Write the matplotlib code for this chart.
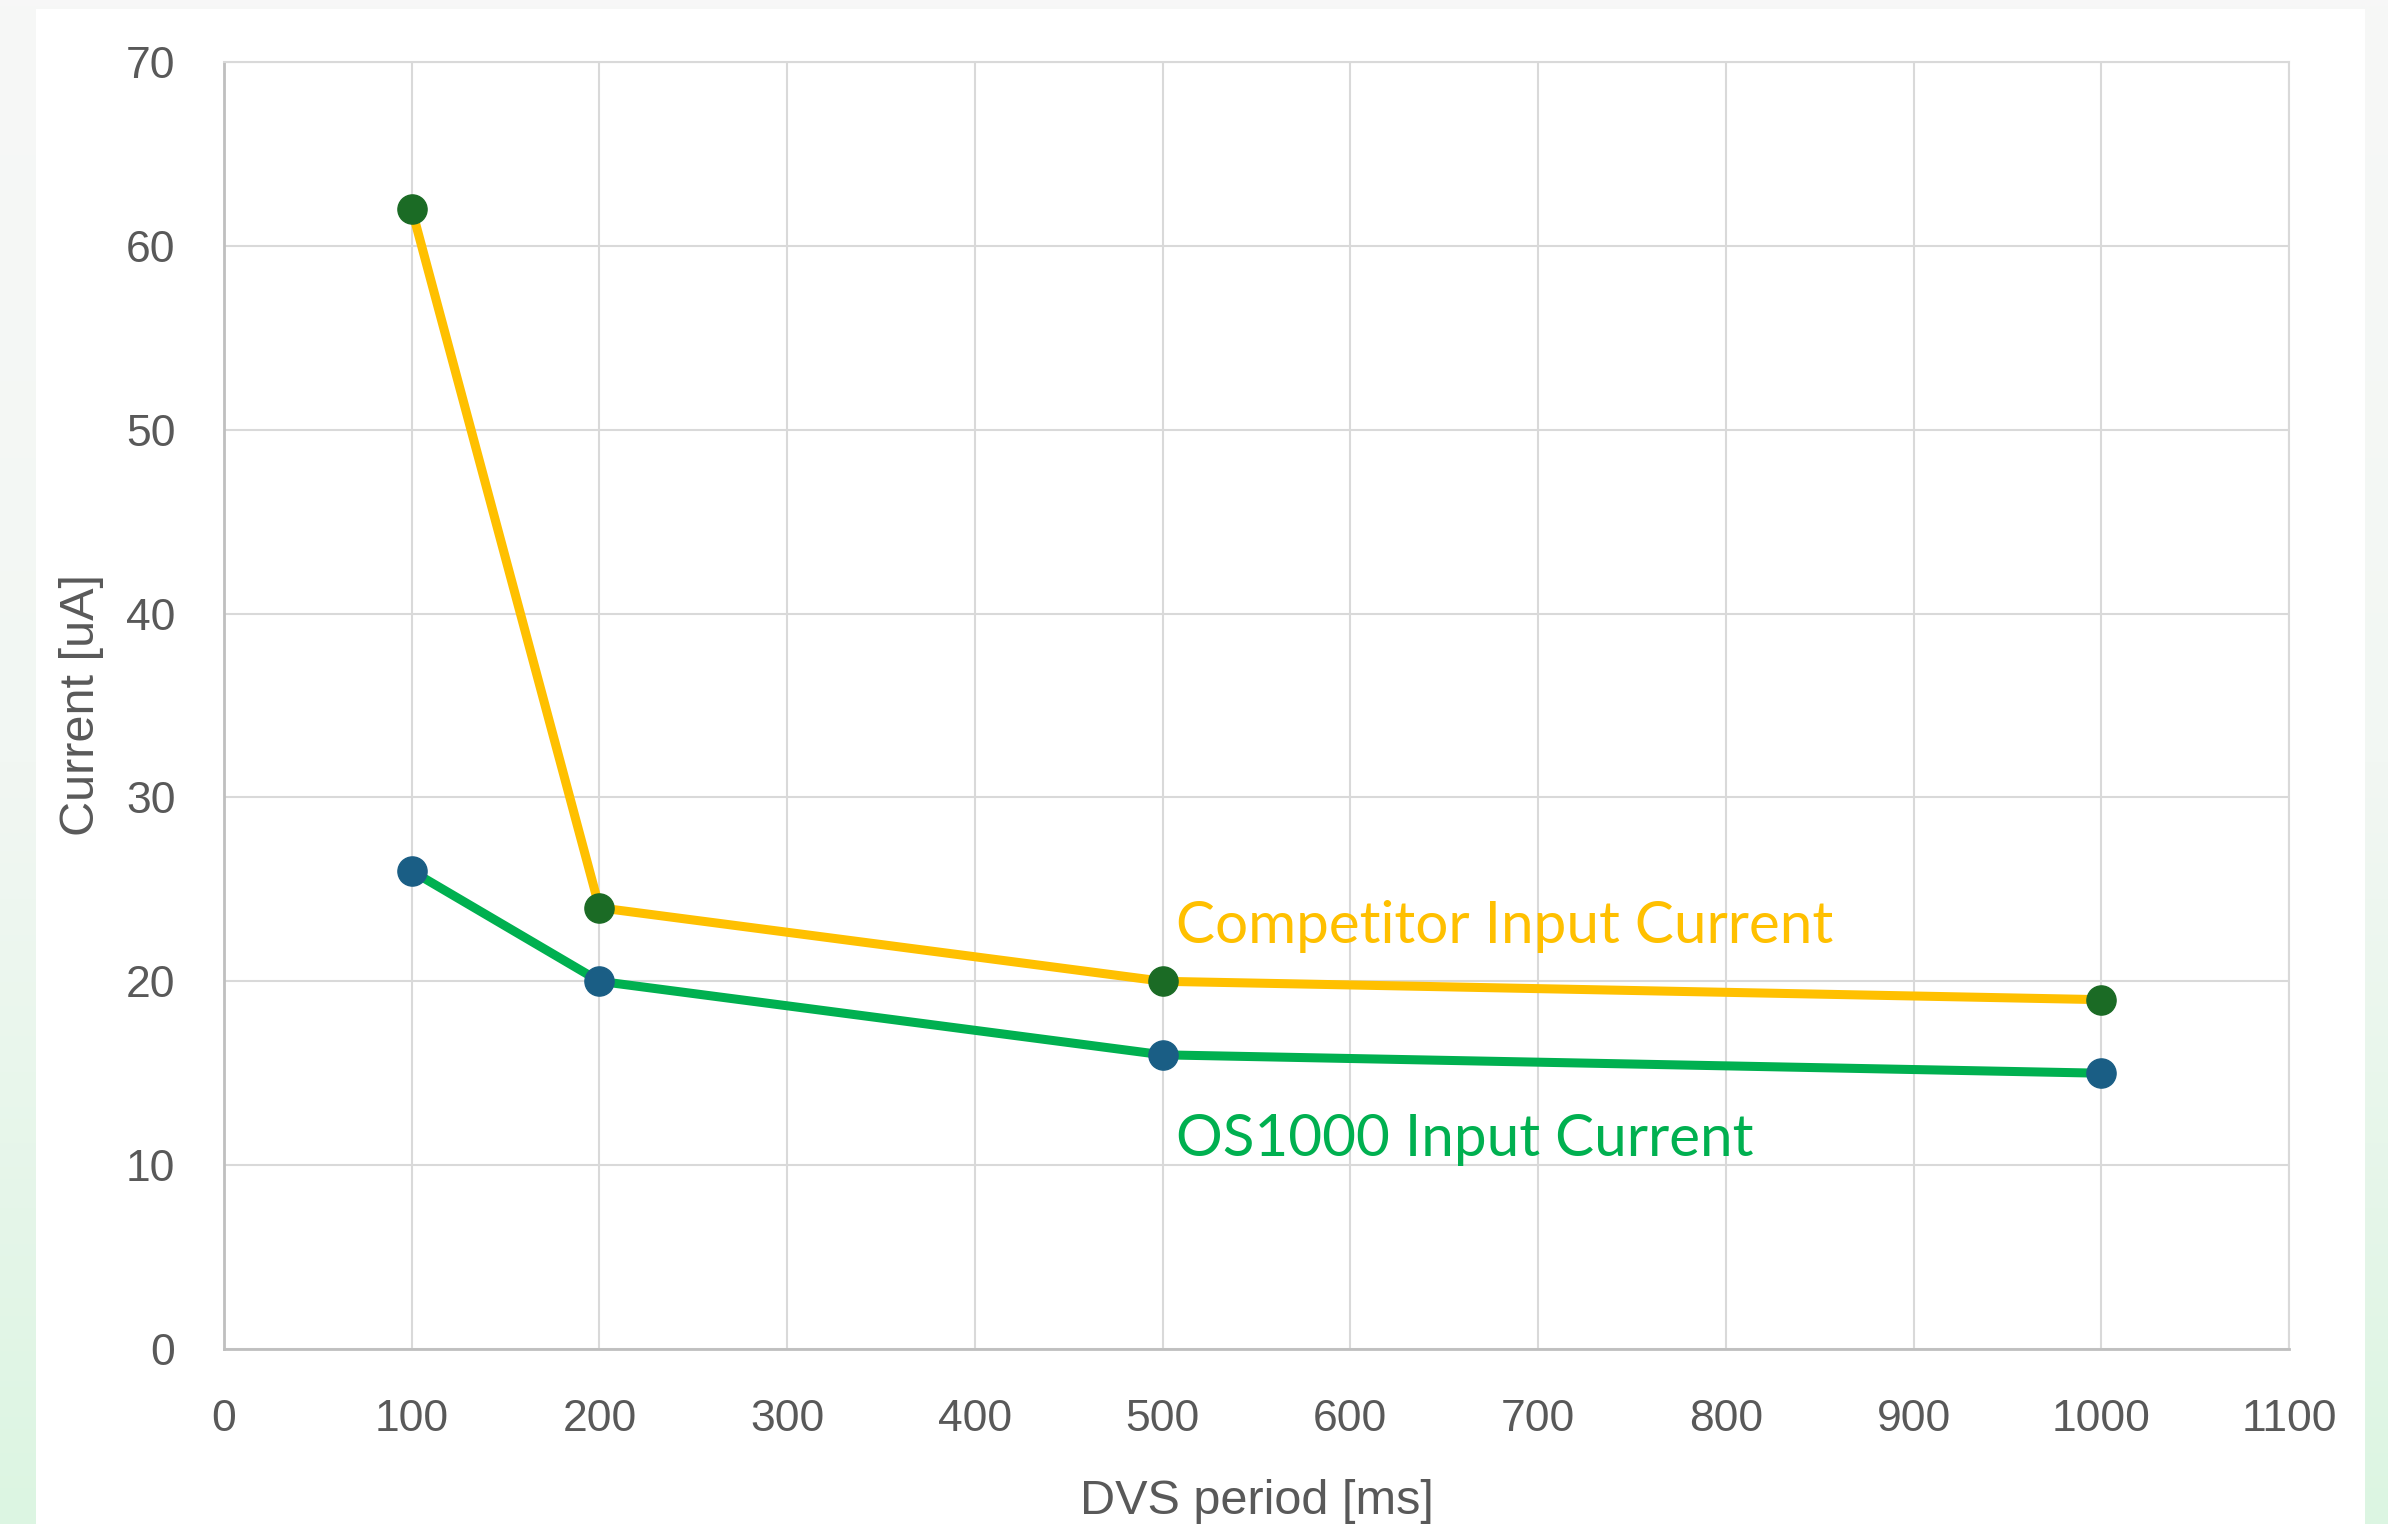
import numpy as np
import matplotlib
import matplotlib.pyplot as plt
from matplotlib.colors import LinearSegmentedColormap
from matplotlib.patches import Rectangle
matplotlib.use('Agg')

# data
periods = [100, 200, 500, 1000]
competitor = [62, 24, 20, 19]
os1000 = [26, 20, 16, 15]
x_ticks = list(range(0, 1101, 100))
y_ticks = list(range(0, 71, 10))

plt.rcParams['font.family'] = ['Liberation Sans', 'DejaVu Sans']

fig = plt.figure(figsize=(23.88, 15.24), dpi=100)

# soft gradient backdrop with a white panel on it
bg = fig.add_axes([0, 0, 1, 1], zorder=-10)
cmap = LinearSegmentedColormap.from_list('bg', ['#f7f7f7', '#f2f7f3', '#dcf5e2'])
grad = np.linspace(0, 1, 256).reshape(-1, 1)
bg.imshow(grad, aspect='auto', cmap=cmap, extent=[0, 1, 0, 1], origin='upper')
bg.add_patch(Rectangle((36 / 2388, 0), (2365 - 36) / 2388, 1 - 9 / 1524,
                       facecolor='white', edgecolor='none'))
bg.set_xlim(0, 1)
bg.set_ylim(0, 1)
bg.axis('off')

ax = fig.add_axes([224 / 2388, 1 - 1349 / 1524, (2289 - 224) / 2388, (1349 - 62) / 1524])
ax.set_facecolor('white')

ax.plot(periods, competitor, color='#FFC000', linewidth=6.5, zorder=3)
ax.plot(periods, os1000, color='#00B050', linewidth=6.5, zorder=3)
ax.plot(periods, competitor, linestyle='none', marker='o', markersize=21,
        color='#1b6b25', zorder=4)
ax.plot(periods, os1000, linestyle='none', marker='o', markersize=21,
        color='#1a5e85', zorder=4)

ax.text(507, 23.0, 'Competitor Input Current', color='#FFC000', fontsize=42,
        family=['Lato', 'DejaVu Sans'], va='center', ha='left')
ax.text(507, 11.4, 'OS1000 Input Current', color='#00B050', fontsize=42,
        family=['Lato', 'DejaVu Sans'], va='center', ha='left')

ax.set_xlim(0, 1100)
ax.set_ylim(0, 70)
ax.set_xticks(x_ticks)
ax.set_yticks(y_ticks)
ax.grid(True, color='#d9d9d9', linewidth=1.5)
ax.set_axisbelow(True)
ax.tick_params(length=0, labelsize=32, labelcolor='#595959')
ax.tick_params(axis='y', pad=35)
ax.tick_params(axis='x', pad=36)
for side in ['top', 'right']:
    ax.spines[side].set_color('#d9d9d9')
    ax.spines[side].set_linewidth(1.5)
for side in ['left', 'bottom']:
    ax.spines[side].set_color('#bfbfbf')
    ax.spines[side].set_linewidth(2)

ax.set_xlabel('DVS period [ms]', fontsize=35, color='#595959', labelpad=28)
ax.set_ylabel('Current [uA]', fontsize=35, color='#595959', labelpad=16)

fig.savefig('out.png', dpi=100)
